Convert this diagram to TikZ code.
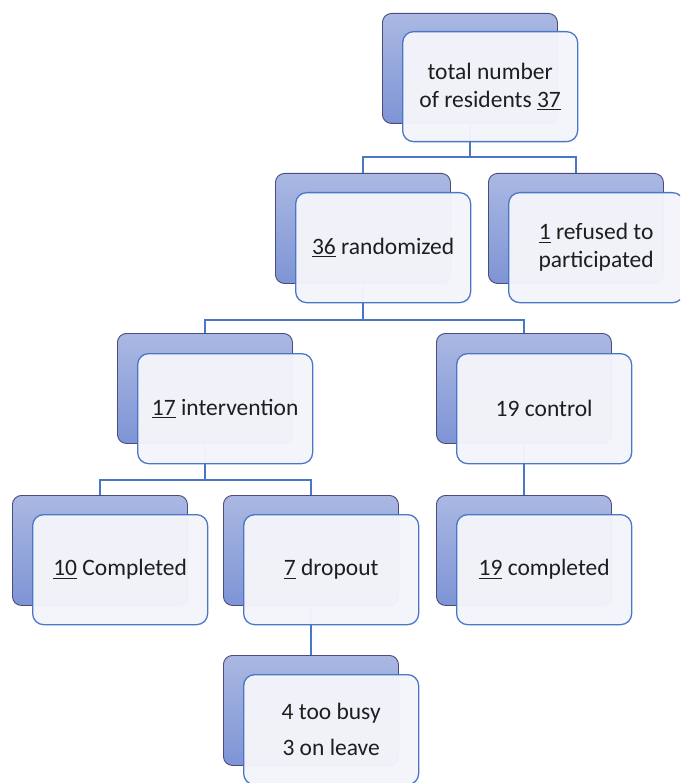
\documentclass[tikz,border=0pt]{standalone}
\usepackage{fontspec}
\setmainfont{Carlito}
\newsavebox\ulbox
\newcommand\ulnum[1]{\sbox\ulbox{#1}\rlap{\rule[-3.2pt]{\wd\ulbox}{1.4pt}}\usebox\ulbox}
\begin{document}
\begin{tikzpicture}[x=1pt,y=-1pt,
  backbox/.style={draw=black!55!blue!40!gray, line width=0.9pt, rounded corners=9pt,
    top color=backtop, bottom color=backbot, minimum width=175pt, minimum height=110pt,
    anchor=north west, inner sep=0pt},
  frontbox/.style={draw=linkblue, line width=1.3pt, rounded corners=11pt,
    fill=frontfill, fill opacity=0.97, text opacity=1, minimum width=175pt, minimum height=110pt,
    anchor=north west, inner sep=0pt, align=center, text=textgray,
    font=\fontsize{23.5}{28}\selectfont},
  link/.style={draw=linkblue, line width=1.3pt}
]
\definecolor{backtop}{HTML}{AAB8E2}
\definecolor{backbot}{HTML}{7E94D5}
\definecolor{linkblue}{HTML}{4A76C8}
\definecolor{frontfill}{HTML}{F4F5FA}
\definecolor{textgray}{HTML}{1E1E1E}
\useasboundingbox (0,0) rectangle (680,783);
\clip (0,0) rectangle (680,783);
% back boxes
\node[backbox] (topB)  at (382,13) {};
\node[backbox] (randB) at (275,173) {};
\node[backbox] (refB)  at (488,173) {};
\node[backbox] (intB)  at (117,333) {};
\node[backbox] (ctlB)  at (436,333) {};
\node[backbox] (cmpB)  at (12,495) {};
\node[backbox] (dropB) at (223,495) {};
\node[backbox] (c19B)  at (436,495) {};
\node[backbox] (busyB) at (223,655) {};
% connectors
\coordinate (bar1) at (0,157);
\coordinate (bar2) at (0,320);
\coordinate (bar3) at (0,480);
\draw[link] (topB.south) -- (topB.south |- bar1) -| (randB.north);
\draw[link] (topB.south |- bar1) -| (refB.north);
\draw[link] (randB.south) -- (randB.south |- bar2) -| (intB.north);
\draw[link] (randB.south |- bar2) -| (ctlB.north);
\draw[link] (intB.south) -- (intB.south |- bar3) -| (cmpB.north);
\draw[link] (intB.south |- bar3) -| (dropB.north);
\draw[link] (ctlB.south) -- (c19B.north);
\draw[link] (dropB.south) -- (busyB.north);
% front boxes
\node[frontbox] (top)  at (402,31)  {total number\\of residents \ulnum{37}};
\node[frontbox] (rand) at (295,192) {\ulnum{36} randomized};
\node[frontbox] (ref)  at (508,192) {\ulnum{1} refused to\\participated};
\node[frontbox] (int)  at (137,353) {\ulnum{17} intervention};
\node[frontbox] (ctl)  at (456,353) {19 control};
\node[frontbox] (cmp)  at (32,514)  {\ulnum{10} Completed};
\node[frontbox] (drop) at (243,514) {\ulnum{7} dropout};
\node[frontbox] (c19)  at (456,514) {\ulnum{19} completed};
\node[frontbox] (busy) at (243,674) {4 too busy\\[8pt]3 on leave};
\end{tikzpicture}
\end{document}
